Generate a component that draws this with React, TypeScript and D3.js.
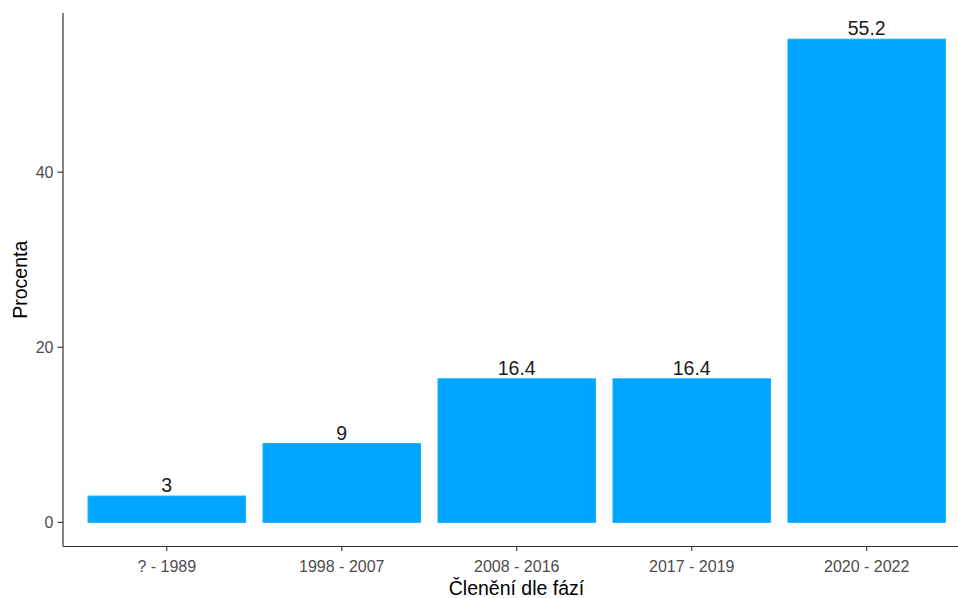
import React from "react";
import * as d3 from "d3";

const categories = ["? - 1989", "1998 - 2007", "2008 - 2016", "2017 - 2019", "2020 - 2022"];
const values = [3, 9, 16.4, 16.4, 55.2];
const valueLabels = ["3", "9", "16.4", "16.4", "55.2"];
const yTicks = [0, 20, 40];
const xTitle = "Členění dle fází";
const yTitle = "Procenta";

const W = 958;
const H = 598;
const panelLeft = 63;
const panelRight = 958;
const panelTop = 13;
const panelBottom = 546.5;
const FONT = "'Liberation Sans', Arial, sans-serif";

export default function App() {
  const x = d3.scalePoint<string>().domain(categories).range([166.8, 866.7]);
  const bw = x.step() * 0.9;
  const y = d3.scaleLinear().domain([-2.76, 57.96]).range([panelBottom, 15]);

  return (
    <svg width={W} height={H} style={{ position: "absolute", left: 0, top: 0, background: "#fff" }}>
      <rect x={0} y={0} width={W} height={H} fill="#fff" />
      {categories.map((c, i) => (
        <rect
          key={c}
          x={(x(c) as number) - bw / 2}
          y={y(values[i])}
          width={bw}
          height={y(0) - y(values[i])}
          fill="#00A5FF"
          stroke="#1aaeff"
          strokeWidth={1}
        />
      ))}
      {categories.map((c, i) => (
        <text
          key={"l" + c}
          x={x(c) as number}
          y={y(values[i]) - 4}
          textAnchor="middle"
          fontFamily={FONT}
          fontSize={19.5}
          fill="#1a1a1a"
        >
          {valueLabels[i]}
        </text>
      ))}
      {/* axes */}
      <line x1={panelLeft} x2={panelLeft} y1={panelTop} y2={panelBottom} stroke="#333" strokeWidth={1.2} />
      <line x1={panelLeft} x2={panelRight} y1={panelBottom} y2={panelBottom} stroke="#333" strokeWidth={1.2} />
      {yTicks.map((t) => (
        <g key={"yt" + t}>
          <line x1={panelLeft - 5.5} x2={panelLeft} y1={y(t)} y2={y(t)} stroke="#333" strokeWidth={1.1} />
          <text
            x={panelLeft - 9.5}
            y={y(t)}
            dy="0.36em"
            textAnchor="end"
            fontFamily={FONT}
            fontSize={16}
            fill="#4d4d4d"
          >
            {t}
          </text>
        </g>
      ))}
      {categories.map((c) => (
        <g key={"xt" + c}>
          <line x1={x(c) as number} x2={x(c) as number} y1={panelBottom} y2={panelBottom + 4.5} stroke="#333" strokeWidth={1.1} />
          <text
            x={x(c) as number}
            y={571.5}
            textAnchor="middle"
            fontFamily={FONT}
            fontSize={16}
            fill="#4d4d4d"
          >
            {c}
          </text>
        </g>
      ))}
      <text x={516.5} y={595} textAnchor="middle" fontFamily={FONT} fontSize={19.5} fill="#000">
        {xTitle}
      </text>
      <text
        transform={`translate(26.5, ${(panelTop + panelBottom) / 2}) rotate(-90)`}
        textAnchor="middle"
        fontFamily={FONT}
        fontSize={19.5}
        fill="#000"
      >
        {yTitle}
      </text>
    </svg>
  );
}
